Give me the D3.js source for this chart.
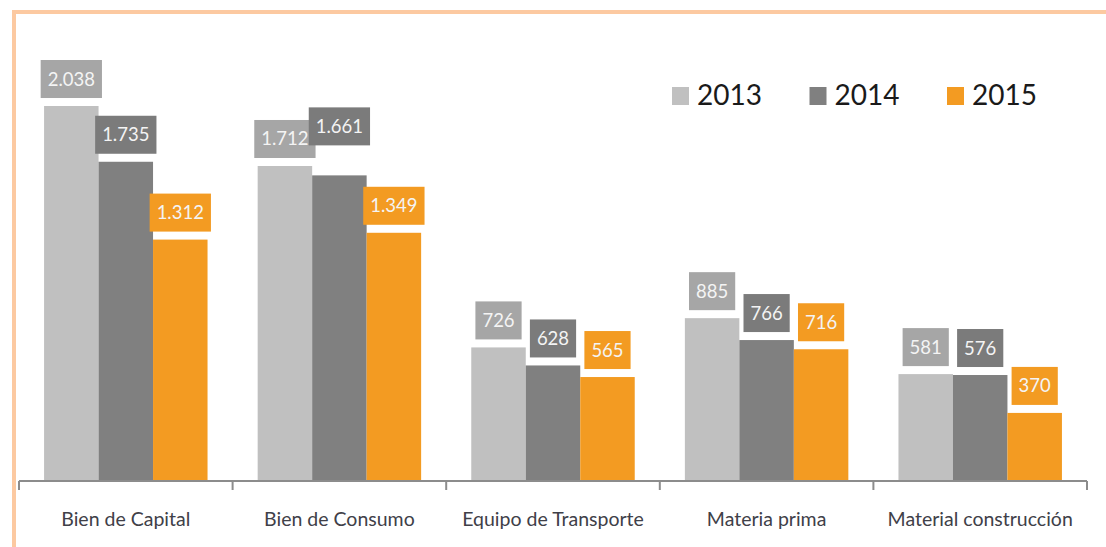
<!DOCTYPE html>
<html>
<head>
<meta charset="utf-8">
<script src="https://cdn.jsdelivr.net/npm/d3@7"></script>
<style>
  body { margin: 0; background: #fff; }
  svg { display: block; font-family: Lato, "Open Sans", sans-serif; }
</style>
</head>
<body>
<script>
var categories = ["Bien de Capital", "Bien de Consumo", "Equipo de Transporte", "Materia prima", "Material construcción"];
var years = ["2013", "2014", "2015"];
var values2013 = [2038, 1712, 726, 885, 581];
var values2014 = [1735, 1661, 628, 766, 576];
var values2015 = [1312, 1349, 565, 716, 370];

var width = 1106;
var height = 547;

var barColors = {"2013": "#c0c0c0", "2014": "#808080", "2015": "#f39b22"};
var labelColors = {"2013": "#a6a6a6", "2014": "#7b7b7b", "2015": "#f39b22"};

var series = {"2013": values2013, "2014": values2014, "2015": values2015};

var locale = d3.formatLocale({decimal: ",", thousands: ".", grouping: [3], currency: ["", ""]});
var fmt = locale.format(",d");

var svg = d3.select("body").append("svg").attr("width", width).attr("height", height);

// marco naranja
svg.append("rect")
    .attr("x", 14).attr("y", 12)
    .attr("width", 1100).attr("height", 545)
    .attr("fill", "none")
    .attr("stroke", "#fcc9a1")
    .attr("stroke-width", 4);

var x0 = d3.scaleBand().domain(categories).range([19, 1087]).padding(0);
var x1 = d3.scaleBand().domain(years).range([0, x0.bandwidth()]).paddingInner(0).paddingOuter(0.46);
var y = d3.scaleLinear().domain([0, 2500]).range([481, 21]);

var rows = [];
categories.forEach(function(c, i) {
    years.forEach(function(yr) {
        rows.push({cat: c, year: yr, value: series[yr][i]});
    });
});

var groups = svg.selectAll("g.cat")
    .data(categories)
    .enter().append("g")
    .attr("class", "cat")
    .attr("transform", function(d) { return "translate(" + x0(d) + ",0)"; });

groups.selectAll("rect.bar")
    .data(function(c) { return rows.filter(function(r) { return r.cat == c; }); })
    .enter().append("rect")
    .attr("class", "bar")
    .attr("x", function(d) { return x1(d.year); })
    .attr("y", function(d) { return y(d.value); })
    .attr("width", x1.bandwidth())
    .attr("height", function(d) { return y(0) - y(d.value); })
    .attr("fill", function(d) { return barColors[d.year]; });

// eje x
var axis = svg.append("g").attr("transform", "translate(0,481)");
axis.append("line")
    .attr("x1", 19).attr("x2", 1087)
    .attr("stroke", "#8c8c8c").attr("stroke-width", 2);
var edges = categories.map(function(c) { return x0(c); }).concat([x0.range()[1]]);
axis.selectAll("line.tick")
    .data(edges)
    .enter().append("line")
    .attr("class", "tick")
    .attr("x1", function(d) { return d; }).attr("x2", function(d) { return d; })
    .attr("y1", 0).attr("y2", 9)
    .attr("stroke", "#8c8c8c").attr("stroke-width", 2);
axis.selectAll("text")
    .data(categories)
    .enter().append("text")
    .attr("x", function(d) { return x0(d) + x0.bandwidth() / 2; })
    .attr("y", 45)
    .attr("text-anchor", "middle")
    .attr("font-size", 19.5)
    .attr("fill", "#404048")
    .text(function(d) { return d; });

// etiquetas de valor
var labelLayer = svg.append("g");
var prev = null;
rows.forEach(function(d) {
    var cx = x0(d.cat) + x1(d.year) + x1.bandwidth() / 2;
    var g = labelLayer.append("g");
    var box = g.append("rect").attr("fill", labelColors[d.year]);
    var t = g.append("text")
        .attr("text-anchor", "middle")
        .attr("font-size", 18.5)
        .attr("fill", "#f4f4f4")
        .text(fmt(d.value));
    var tw = t.node().getComputedTextLength();
    var bw = tw + 14, bh = 38;
    var bx = cx - bw / 2;
    var by = y(d.value) - 8 - bh;
    if (prev && prev.cat == d.cat && bx < prev.x + prev.w && by < prev.y + prev.h && by + bh > prev.y) {
        by -= 22;
    }
    box.attr("x", bx).attr("y", by).attr("width", bw).attr("height", bh);
    t.attr("x", cx).attr("y", by + bh / 2 + 6.5);
    prev = {cat: d.cat, x: bx, y: by, w: bw, h: bh};
});

// leyenda
var legend = svg.append("g").selectAll("g")
    .data(years)
    .enter().append("g")
    .attr("transform", function(d, i) { return "translate(" + (672 + i * 137.5) + ",87)"; });
legend.append("rect")
    .attr("width", 17).attr("height", 18)
    .attr("fill", function(d) { return barColors[d]; });
legend.append("text")
    .attr("x", 25).attr("y", 18)
    .attr("font-size", 28)
    .attr("fill", "#1a1a1a")
    .text(function(d) { return d; });
</script>
</body>
</html>
